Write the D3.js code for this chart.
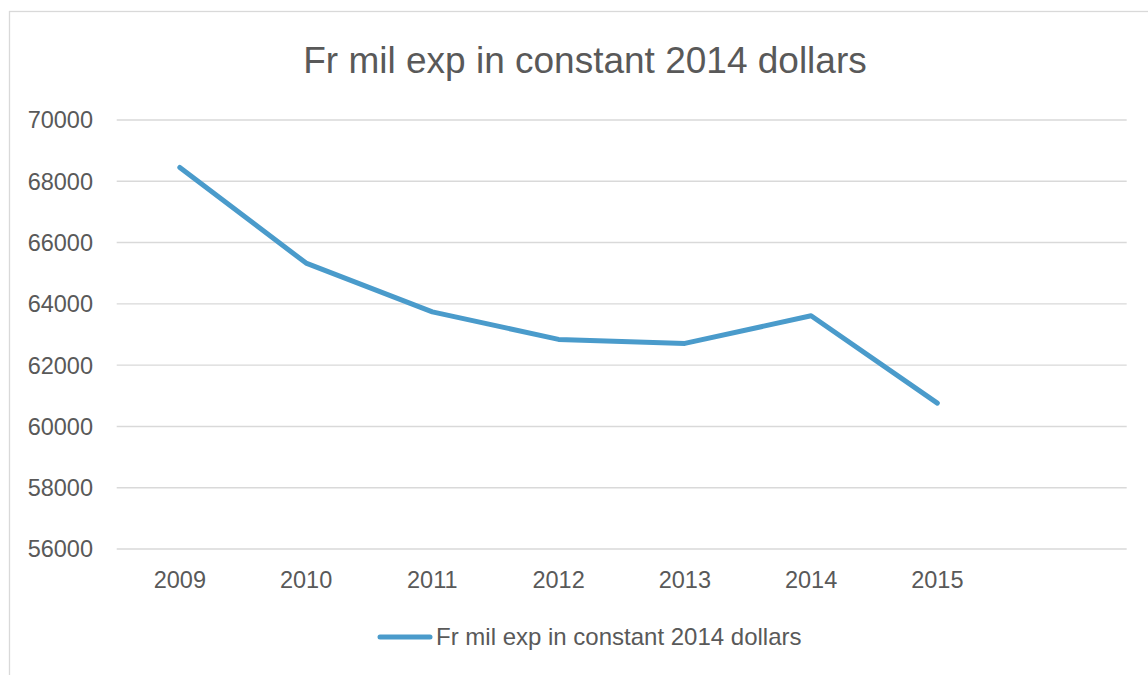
<!doctype HTML>
<html>
  <head>
    <title>Fr mil exp</title>
    <style>
      body { margin: 0; background: #fff; }
      text { font-family: "Liberation Sans", Arial, sans-serif; fill: #595959; }
      .grid line { stroke: #d9d9d9; stroke-width: 1.4px; }
    </style>
    <script src="https://cdn.jsdelivr.net/npm/d3@7"></script>
  </head>
  <body>

  <svg width="1148" height="675"></svg>

  <script>

  var title = 'Fr mil exp in constant 2014 dollars';
  var seriesName = 'Fr mil exp in constant 2014 dollars';
  // the 8th slot is left empty in the original sheet
  var years = ['2009', '2010', '2011', '2012', '2013', '2014', '2015', ''];
  var values = [68450, 65330, 63740, 62840, 62710, 63610, 60760];
  var yTicks = [56000, 58000, 60000, 62000, 64000, 66000, 68000, 70000];

  var $svg = d3.select('svg');
  var plotLeft = 116.7, plotRight = 1126.7, plotTop = 120, plotBottom = 549;
  var lineColor = '#4a9bcb';
  var tickSize = '23.5px';

  // chart frame
  $svg.append('rect')
    .attr('x', 9.5).attr('y', 11.5)
    .attr('width', 1160).attr('height', 700)
    .attr('fill', 'none')
    .attr('stroke', '#d9d9d9')
    .attr('stroke-width', 1.3);

  var x = d3.scaleBand().domain(years).range([plotLeft, plotRight]);
  var y = d3.scaleLinear().domain([56000, 70000]).range([plotBottom, plotTop]);

  $svg.append('g')
    .attr('class', 'grid')
    .selectAll('line')
    .data(yTicks)
    .enter().append('line')
    .attr('x1', plotLeft).attr('x2', plotRight)
    .attr('y1', function(d){ return y(d); })
    .attr('y2', function(d){ return y(d); });

  $svg.append('g')
    .selectAll('text')
    .data(yTicks)
    .enter().append('text')
    .attr('x', 93)
    .attr('y', function(d){ return y(d); })
    .attr('dy', '0.36em')
    .attr('text-anchor', 'end')
    .style('font-size', tickSize)
    .text(function(d){ return d; });

  $svg.append('g')
    .selectAll('text')
    .data(years.filter(function(d){ return d; }))
    .enter().append('text')
    .attr('x', function(d){ return x(d) + x.bandwidth() / 2; })
    .attr('y', 588)
    .attr('text-anchor', 'middle')
    .style('font-size', tickSize)
    .text(function(d){ return d; });

  var line = d3.line()
    .x(function(d, i){ return x(years[i]) + x.bandwidth() / 2; })
    .y(function(d){ return y(d); });

  $svg.append('path')
    .datum(values)
    .attr('d', line)
    .attr('fill', 'none')
    .attr('stroke', lineColor)
    .attr('stroke-width', 5)
    .attr('stroke-linecap', 'round')
    .attr('stroke-linejoin', 'round');

  $svg.append('text')
    .attr('x', 585)
    .attr('y', 73)
    .attr('text-anchor', 'middle')
    .style('font-size', '37px')
    .text(title);

  // legend
  var $legend = $svg.append('g');
  $legend.append('line')
    .attr('x1', 380).attr('x2', 430)
    .attr('y1', 637).attr('y2', 637)
    .attr('stroke', lineColor)
    .attr('stroke-width', 5)
    .attr('stroke-linecap', 'round');
  $legend.append('text')
    .attr('x', 436)
    .attr('y', 645)
    .style('font-size', '24px')
    .text(seriesName);

  </script>

  </body>
</html>
